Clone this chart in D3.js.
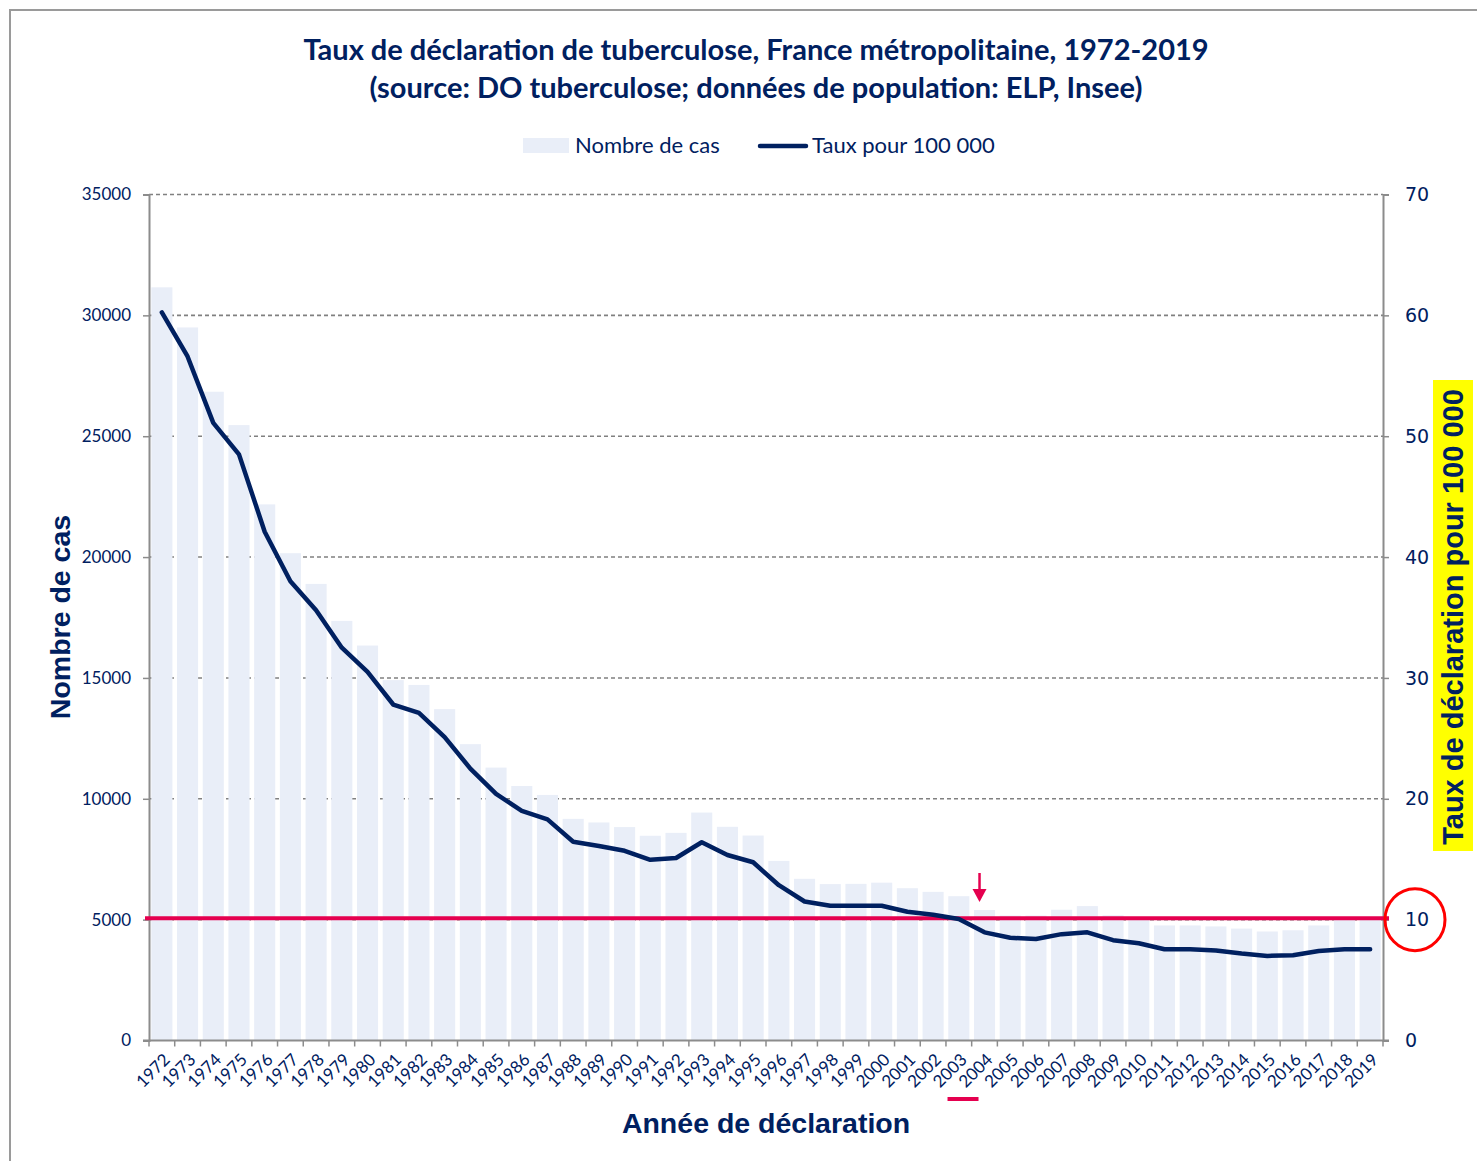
<!DOCTYPE html>
<html><head><meta charset="utf-8">
<script src="https://cdn.jsdelivr.net/npm/d3@7"></script>
<style>
html,body{margin:0;padding:0;background:#fff;}
svg{display:block;}
</style></head>
<body>
<svg id="chart" width="1477" height="1161"></svg>
<script>
const years = [1972,1973,1974,1975,1976,1977,1978,1979,1980,1981,1982,1983,1984,1985,1986,1987,1988,1989,1990,1991,1992,1993,1994,1995,1996,1997,1998,1999,2000,2001,2002,2003,2004,2005,2006,2007,2008,2009,2010,2011,2012,2013,2014,2015,2016,2017,2018,2019];
const cases = [31160,29500,26840,25460,22180,20160,18890,17360,16340,14910,14710,13710,12260,11290,10530,10160,9170,9020,8830,8470,8590,9430,8840,8480,7430,6690,6470,6480,6530,6300,6150,5970,5400,5170,5170,5410,5560,5180,5100,4760,4760,4720,4630,4510,4560,4760,5000,5050];
const rates = [60.25,56.6,51.1,48.5,42.1,38.0,35.6,32.5,30.5,27.8,27.1,25.1,22.5,20.4,19.0,18.3,16.45,16.1,15.7,14.95,15.1,16.4,15.35,14.75,12.85,11.5,11.15,11.15,11.15,10.65,10.4,10.05,8.95,8.5,8.4,8.8,8.95,8.3,8.05,7.55,7.55,7.45,7.2,7.0,7.05,7.4,7.55,7.55];
const leftTicks = [0,5000,10000,15000,20000,25000,30000,35000];
const rightTicks = [0,10,20,30,40,50,60,70];
const threshold = 10;
const highlightYear = 2004;
const titleLines = ["Taux de déclaration de tuberculose, France métropolitaine, 1972-2019","(source: DO tuberculose; données de population: ELP, Insee)"];
const legendLabels = ["Nombre de cas","Taux pour 100 000"];

const navy = "#002060", barColor = "#E9EEF8", grid = "#808080", axisCol = "#8C8C8C", magenta = "#E5004F";
const svg = d3.select("#chart");
const m = {left:149, right:1383, top:194.5, bottom:1040.5};

// frame
svg.append("path").attr("d","M10,1161 L10,10 L1477,10").attr("fill","none").attr("stroke","#9A9A9A").attr("stroke-width",2);

const x = d3.scaleBand().domain(years).range([m.left, m.right]).paddingInner(0.18).paddingOuter(0.09);
const yL = d3.scaleLinear().domain([0,35000]).range([m.bottom, m.top]);
const yR = d3.scaleLinear().domain([0,70]).range([m.bottom, m.top]);

// gridlines
svg.append("g").selectAll("line").data(leftTicks.filter(d=>d>0)).join("line")
  .attr("x1",m.left).attr("x2",m.right).attr("y1",d=>yL(d)).attr("y2",d=>yL(d))
  .attr("stroke",grid).attr("stroke-width",1.6).attr("stroke-dasharray","4,3");

// bars
svg.append("g").selectAll("rect").data(years).join("rect")
  .attr("x",d=>x(d)).attr("width",x.bandwidth())
  .attr("y",(d,i)=>yL(cases[i])).attr("height",(d,i)=>yL(0)-yL(cases[i]))
  .attr("fill",barColor);

// axes
const gL = svg.append("g").attr("transform",`translate(${m.left},0)`)
  .call(d3.axisLeft(yL).tickValues(leftTicks).tickSize(6).tickPadding(12).tickFormat(d3.format("d")));
gL.select(".domain").attr("stroke",axisCol).attr("stroke-width",2);
gL.selectAll(".tick line").attr("stroke",axisCol).attr("stroke-width",1.5);
gL.selectAll(".tick text").attr("fill",navy).style("font-family","Lato").style("font-size","17px");

const gR = svg.append("g").attr("transform",`translate(${m.right},0)`)
  .call(d3.axisRight(yR).tickValues(rightTicks).tickSize(6).tickPadding(16));
gR.select(".domain").attr("stroke",axisCol).attr("stroke-width",2);
gR.selectAll(".tick line").attr("stroke",axisCol).attr("stroke-width",1.5);
gR.selectAll(".tick text").attr("fill",navy).style("font-family","DejaVu Sans").style("font-size","19px");

// x axis
const bandStep = x.step();
const gx = svg.append("g").attr("transform",`translate(0,${m.bottom})`);
gx.append("line").attr("x1",m.left-6).attr("x2",m.right+6).attr("stroke",axisCol).attr("stroke-width",2);
gx.selectAll("line.tk").data(years.concat([null])).join("line").attr("class","tk")
  .attr("x1",(d,i)=>m.left+i*bandStep).attr("x2",(d,i)=>m.left+i*bandStep)
  .attr("y1",0).attr("y2",6).attr("stroke",axisCol).attr("stroke-width",1.5);
gx.selectAll("text").data(years).join("text")
  .attr("transform",d=>`translate(${x(d)+x.bandwidth()/2+5},16) rotate(-45)`)
  .attr("text-anchor","end").attr("dy","0.35em")
  .attr("fill",navy).style("font-family","Lato").style("font-size","17px")
  .text(d=>d);

// threshold line
svg.append("line").attr("x1",m.left-4).attr("x2",m.right+6)
  .attr("y1",yR(threshold)-1.5).attr("y2",yR(threshold)-1.5)
  .attr("stroke",magenta).attr("stroke-width",4);

// rate line
const line = d3.line().x((d,i)=>x(years[i])+x.bandwidth()/2).y(d=>yR(d));
svg.append("path").datum(rates).attr("d",line).attr("fill","none")
  .attr("stroke",navy).attr("stroke-width",4.5).attr("stroke-linejoin","round").attr("stroke-linecap","round");

// annotations: arrow above 2004, underline under 2004 label, circle around 10
const hx = x(highlightYear)+x.bandwidth()/2 - 5;
svg.append("line").attr("x1",hx).attr("x2",hx).attr("y1",873).attr("y2",890).attr("stroke",magenta).attr("stroke-width",2.5);
svg.append("path").attr("d",`M${hx-7},889 L${hx+7},889 L${hx},902 Z`).attr("fill",magenta);
svg.append("line").attr("x1",hx-32).attr("x2",hx-1).attr("y1",1099).attr("y2",1099).attr("stroke",magenta).attr("stroke-width",4);
svg.append("ellipse").attr("cx",1415).attr("cy",yR(threshold)).attr("rx",30).attr("ry",31)
  .attr("fill","none").attr("stroke","#FF0000").attr("stroke-width",3);

// title
svg.append("g").selectAll("text").data(titleLines).join("text")
  .attr("x",756).attr("y",(d,i)=>60+i*38).attr("text-anchor","middle")
  .attr("fill",navy).style("font-family","Lato").style("font-weight","bold").style("font-size","29px")
  .text(d=>d);

// legend
svg.append("rect").attr("x",523).attr("y",138).attr("width",46).attr("height",15).attr("fill",barColor);
svg.append("text").attr("x",575).attr("y",153).attr("fill",navy).style("font-family","Lato").style("font-size","22px").text(legendLabels[0]);
svg.append("line").attr("x1",760).attr("x2",806).attr("y1",146).attr("y2",146).attr("stroke",navy).attr("stroke-width",4.5).attr("stroke-linecap","round");
svg.append("text").attr("x",812).attr("y",153).attr("fill",navy).style("font-family","Lato").style("font-size","22px").text(legendLabels[1]);

// axis titles
svg.append("text").attr("transform","translate(70,617) rotate(-90)").attr("text-anchor","middle")
  .attr("fill",navy).style("font-family","Liberation Sans").style("font-weight","bold").style("font-size","28.5px").text("Nombre de cas");
svg.append("text").attr("x",766).attr("y",1133).attr("text-anchor","middle")
  .attr("fill",navy).style("font-family","Liberation Sans").style("font-weight","bold").style("font-size","28.5px").text("Année de déclaration");
svg.append("rect").attr("x",1433).attr("y",380).attr("width",40).attr("height",471).attr("fill","#FFFF00");
svg.append("text").attr("transform","translate(1463,617) rotate(-90)").attr("text-anchor","middle")
  .attr("fill",navy).style("font-family","Liberation Sans").style("font-weight","bold").style("font-size","29px").text("Taux de déclaration pour 100 000");
</script>
</body></html>
